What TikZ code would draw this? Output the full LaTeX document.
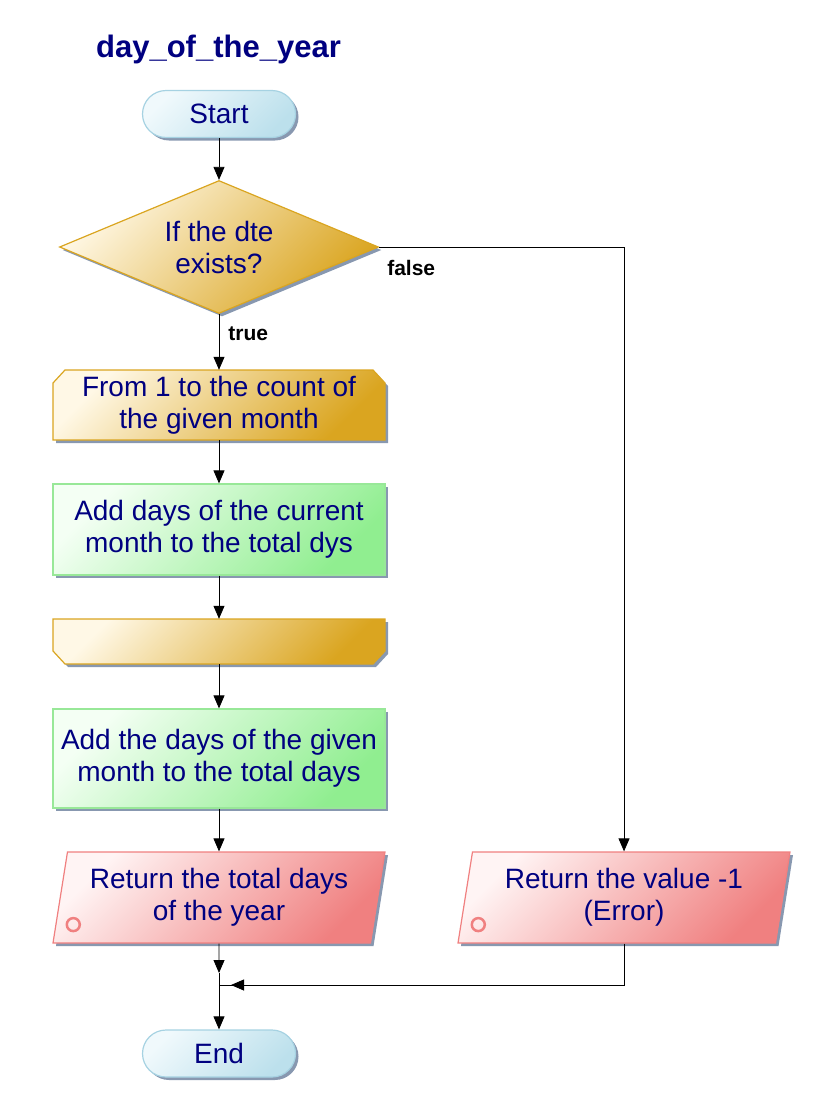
\documentclass[tikz,border=0pt]{standalone}
\usepackage{fontspec}
\setmainfont{Liberation Sans}
\usetikzlibrary{shapes.geometric,shadows,arrows.meta,calc}
\definecolor{txt}{HTML}{000080}
\definecolor{shadowc}{HTML}{8898B0}
\definecolor{cyanl}{HTML}{F0F9FC}
\definecolor{cyand}{HTML}{BCE0EC}
\definecolor{cyanb}{HTML}{A6D2E2}
\definecolor{goldl}{HTML}{FFF8E6}
\definecolor{goldd}{HTML}{DAA520}
\definecolor{goldb}{HTML}{DAA520}
\definecolor{greenl}{HTML}{F4FFF4}
\definecolor{greend}{HTML}{90EE90}
\definecolor{greenb}{HTML}{98E898}
\definecolor{redl}{HTML}{FFF4F4}
\definecolor{redd}{HTML}{F08080}
\definecolor{redb}{HTML}{F08080}
\begin{document}
\begin{tikzpicture}[x=1pt,y=1pt,
  shad/.style={drop shadow={shadow xshift=3pt,shadow yshift=-3pt,fill=shadowc,opacity=1}},
  txtstyle/.style={font=\fontsize{28}{32}\selectfont, text=txt, align=center, inner sep=0pt},
  base/.style={txtstyle, line width=1.2pt, shad},
  term/.style={base, rectangle, rounded corners=23.5pt, minimum width=153pt, minimum height=47pt,
    draw=cyanb, top color=cyanl, bottom color=cyand, shading angle=45},
  decis/.style={base, diamond, aspect=2.4, minimum width=319pt, minimum height=133pt,
    draw=goldb, top color=goldl, bottom color=goldd, shading angle=45},
  loopfill/.style={line width=1.2pt, shad, draw=goldb, top color=goldl, bottom color=goldd, shading angle=45},
  looptext/.style={txtstyle, rectangle, minimum width=332pt},
  procbox/.style={base, rectangle, minimum width=332pt, draw=greenb, top color=greenl, bottom color=greend, shading angle=45},
  iobox/.style={base, trapezium, trapezium left angle=76, trapezium right angle=104, trapezium stretches body=true,
    minimum width=332pt, minimum height=91pt, draw=redb, top color=redl, bottom color=redd, shading angle=45},
  arr/.style={-{Triangle[length=13pt,width=11pt]}, line width=0.8pt, black},
  lbl/.style={font=\bfseries\fontsize{21}{24}\selectfont, text=black, inner sep=0pt},
  circ/.style={draw=redd, line width=2.5pt}
]
\useasboundingbox (0,0) rectangle (840,-1119);

\node[font=\bfseries\fontsize{31}{36}\selectfont, text=txt, anchor=base, inner sep=0pt] (title) at (218.5,-57) {day\_of\_the\_year};

% loop shapes (chamfered)
\path[loopfill] (65,-370) -- (373,-370) -- (385,-383) -- (385,-440) -- (53,-440) -- (53,-383) -- cycle;
\path[loopfill] (53,-619) -- (385,-619) -- (385,-651) -- (373,-664) -- (65,-664) -- (53,-651) -- cycle;

\node[term] (start) at (219,-114) {Start};
\node[decis] (dec) at (219,-247) {If the dte\\exists?};
\node[looptext, minimum height=70pt] (lstart) at (219,-405) {From 1 to the count of\\the given month};
\node[procbox, minimum height=91pt] (p1) at (219,-529.5) {Add days of the current\\month to the total dys};
\node[looptext, minimum height=45pt] (lend) at (219,-641.5) {};
\node[procbox, minimum height=99pt] (p2) at (219,-758.5) {Add the days of the given\\month to the total days};
\node[iobox] (r1) at (219,-897.5) {Return the total days\\of the year};
\node[iobox] (r2) at (624,-897.5) {Return the value -1\\(Error)};
\node[term] (end) at (219,-1053.5) {End};

\draw[circ] ($(r1.bottom left corner)+(21,19)$) circle[radius=6.5pt];
\draw[circ] ($(r2.bottom left corner)+(21,19)$) circle[radius=6.5pt];

\coordinate (j) at (219,-973);
\coordinate (jm) at (219,-985);
\coordinate (jt) at (231,-985);
\coordinate (ja) at (260,-985);

\draw[arr] (start) -- (dec);
\draw[arr] (dec.south) -- node[lbl, pos=0.35, anchor=west, xshift=9pt] (ltrue) {true} (lstart.north);
\draw[arr] (dec.east) -| (r2.north);
\node[lbl, anchor=north west, xshift=8pt, yshift=-13pt] (lfalse) at (dec.east) {false};
\draw[arr] (lstart) -- (p1);
\draw[arr] (p1) -- (lend);
\draw[arr] (lend) -- (p2);
\draw[arr] (p2) -- (r1);
\draw[arr] (r1.south) -- (j);
\draw[arr] (j) -- (end);
\draw[line width=0.8pt] (r2.south) |- (jm);
\draw[arr] (ja) -- (jt);
\end{tikzpicture}
\end{document}
